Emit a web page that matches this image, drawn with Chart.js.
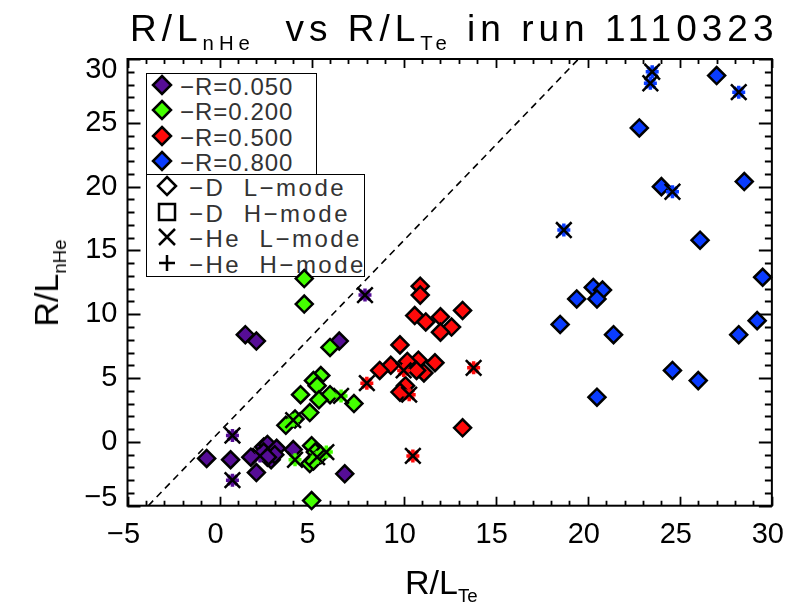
<!DOCTYPE html>
<html><head><meta charset="utf-8">
<script src="https://cdn.jsdelivr.net/npm/chart.js@4/dist/chart.umd.min.js"></script>
<style>
body{margin:0;background:#fff;}
#wrap{position:relative;width:800px;height:613px;overflow:hidden;}
canvas{position:absolute;left:0;top:0;}
.t{position:absolute;font-family:'Liberation Sans',sans-serif;color:#000;white-space:nowrap;line-height:1;}
.sub{font-size:0.55em;position:relative;top:0.45em;}
.box{position:absolute;border:1.5px solid #000;background:transparent;box-sizing:border-box;}
.row{position:absolute;left:0;height:25px;font-family:'Liberation Sans',sans-serif;font-size:24px;color:#333;white-space:nowrap;line-height:25px;}
.row span{position:absolute;top:0;}
</style></head>
<body><div id="wrap">
<div class="box" id="lg1" style="left:146px;top:73px;width:171px;height:102px;"></div>
<div class="box" id="lg2" style="left:146px;top:174px;width:219px;height:103px;"></div>
<canvas id="c" width="800" height="613"></canvas>
<div class="t" id="title" style="left:130px;top:10px;font-size:37px;letter-spacing:5px;">R/L<span class="sub">nHe</span>&nbsp; vs R/L<span class="sub">Te</span>&nbsp;in run 1110323</div>
<div class="t" id="xt" style="left:405px;top:565px;font-size:34px;">R/L<span class="sub">Te</span></div>
<div class="t" id="yt" style="left:46px;top:283px;font-size:34px;transform:translate(-50%,-50%) rotate(-90deg);">R/L<span class="sub">nHe</span></div>
</div>
<script>
// ---- data: [R/L_Te, R/L_nHe] ----
const xRange = [-5, 30];
const yRange = [-5, 30];
const tickValues = [-5, 0, 5, 10, 15, 20, 25, 30];
const dashLineX = [-3.87, 19.5];
const dashLineY = [-5, 30];

const r050_D_L = [[1.4,8.4],[2.0,7.9],[6.5,7.9],[-0.7,-1.3],[0.6,-1.4],[1.7,-1.2],[2.0,-2.4],[2.4,-0.4],[2.6,-0.2],[2.4,-0.8],[2.8,-1.4],[3.1,-0.5],[3.0,-1.0],[4.0,-0.6],[6.8,-2.5],[2.6,-1.2]];
const r050_He_L = [[0.7,0.5],[0.7,-3.0],[2.2,-1.1],[7.9,11.5]];
const r200_D_L = [[4.6,12.8],[4.6,10.8],[6.0,7.4],[5.5,5.2],[5.1,4.8],[5.3,4.4],[4.4,3.7],[6.0,3.7],[5.4,3.3],[4.9,2.3],[4.1,1.8],[3.6,1.3],[7.3,3.0],[5.0,-0.3],[5.2,-0.8],[5.5,-1.0],[4.9,-1.7],[5.1,-1.5],[5.0,-4.6]];
const r200_He_L = [[6.6,3.6],[4.0,1.7],[5.8,-0.8],[4.1,-1.4],[5.3,-1.2]];
const r500_D_L = [[10.9,12.2],[10.9,11.5],[13.2,10.3],[10.6,9.9],[11.2,9.4],[12.0,9.8],[12.6,9.0],[12.0,8.6],[9.8,7.6],[11.7,6.2],[10.8,6.4],[10.2,6.3],[9.3,6.0],[8.7,5.6],[11.1,5.4],[10.7,5.6],[10.1,4.4],[9.8,3.9],[13.2,1.1]];
const r500_He_L = [[8.0,4.6],[10.0,5.6],[10.3,3.7],[13.8,5.8],[10.5,-1.1]];
const r800_D_L = [[27.0,28.7],[22.8,24.6],[24.0,20.0],[28.5,20.4],[26.1,15.8],[29.5,12.9],[20.3,12.1],[20.8,11.9],[19.4,11.2],[20.5,11.2],[18.5,9.2],[21.4,8.4],[29.2,9.5],[28.2,8.4],[24.6,5.6],[26.0,4.8],[20.5,3.5]];
const r800_He_L = [[23.5,29.0],[23.4,28.1],[28.2,27.4],[24.6,19.6],[18.7,16.6]];

const seriesNames = ['R=0.050','R=0.200','R=0.500','R=0.800'];
const seriesColors = ['#560d96','#44ff00','#ff0a0a','#0a3cff'];
const seriesD = [r050_D_L, r200_D_L, r500_D_L, r800_D_L];
const seriesHe = [r050_He_L, r200_He_L, r500_He_L, r800_He_L];
const symbolNames = ['D L\u2212mode','D H\u2212mode','He L\u2212mode','He H\u2212mode'];

const pts = a => a.map(p => ({x:p[0], y:p[1]}));
const datasets = [];
datasets.push({type:'line', data: dashLineX.map((x,i)=>({x, y:dashLineY[i]})), borderColor:'#000', borderWidth:1.6, borderDash:[7,5], pointRadius:0, fill:false, order:100});
seriesD.forEach((d,i)=>{
  datasets.push({data:pts(d), pointStyle:'rectRot', pointRadius:8.5, backgroundColor:seriesColors[i], borderColor:'#000', borderWidth:2.5, clip:false, order:50-i*3});
  datasets.push({data:pts(seriesHe[i]), pointStyle:'star', pointRadius:6.5, backgroundColor:seriesColors[i], borderColor:seriesColors[i], borderWidth:3.5, clip:false, order:49-i*3});
  datasets.push({data:pts(seriesHe[i]), pointStyle:'crossRot', pointRadius:11, borderColor:'#000', borderWidth:2.5, clip:false, order:48-i*3});
});

const fmt = v => (v < 0 ? '\u2212' + Math.abs(v) : String(v));

const frameTicks = {
  id:'frameTicks',
  beforeDatasetsDraw(chart){
    const {ctx, chartArea:a} = chart;
    const x = chart.scales.x, y = chart.scales.y;
    ctx.save();
    ctx.strokeStyle = '#000';
    ctx.lineWidth = 1.8;
    ctx.beginPath();
    for (let v = xRange[0]; v <= xRange[1]; v++) {
      const px = Math.round(x.getPixelForValue(v)) + 0.5;
      const len = (v % 5 === 0) ? 9 : 5;
      ctx.moveTo(px, a.bottom); ctx.lineTo(px, a.bottom - len);
      ctx.moveTo(px, a.top); ctx.lineTo(px, a.top + len);
    }
    for (let v = yRange[0]; v <= yRange[1]; v++) {
      const py = Math.round(y.getPixelForValue(v)) + 0.5;
      const len = (v % 5 === 0) ? 13 : 7;
      ctx.moveTo(a.left, py); ctx.lineTo(a.left + len, py);
      ctx.moveTo(a.right, py); ctx.lineTo(a.right - len, py);
    }
    ctx.stroke();
    ctx.lineWidth = 2;
    ctx.strokeRect(a.left, a.top, a.right - a.left, a.bottom - a.top);
    ctx.restore();
  },
  afterDraw(chart){
    const {ctx, chartArea:a} = chart;
    const y = chart.scales.y;
    ctx.save();
    ctx.font = '29px "Liberation Sans"';
    ctx.fillStyle = '#000';
    ctx.textAlign = 'right';
    ctx.textBaseline = 'middle';
    tickValues.forEach(v => {
      let py = y.getPixelForValue(v);
      if (v === yRange[1]) py += 11;
      if (v === yRange[0]) py -= 8;
      ctx.fillText(fmt(v), a.left - 10, py);
    });
    ctx.restore();
  }
};

new Chart(document.getElementById('c'), {
  type:'scatter',
  data:{datasets},
  options:{
    responsive:false, animation:false, devicePixelRatio:1,
    plugins:{legend:{display:false}, tooltip:{enabled:false}},
    layout:{padding:{top:59, right:27, left:0, bottom:0}},
    scales:{
      x:{type:'linear', min:xRange[0], max:xRange[1], afterFit(s){s.height=107.3;},
         afterBuildTicks(s){s.ticks = tickValues.map(v=>({value:v}));},
         grid:{display:false, drawTicks:false}, border:{display:false},
         ticks:{callback:fmt, color:'#000', padding:12, labelOffset:-4, maxRotation:0, autoSkip:false, font:{family:'Liberation Sans', size:29}}},
      y:{type:'linear', min:yRange[0], max:yRange[1], afterFit(s){s.width=127.5;},
         afterBuildTicks(s){s.ticks = tickValues.map(v=>({value:v}));},
         grid:{display:false, drawTicks:false}, border:{display:false},
         ticks:{display:false, callback:fmt}}
    }
  },
  plugins:[frameTicks]
});

// ---- legend boxes ----
function svgDiamond(fill, stroke){return `<svg width="22" height="22" viewBox="0 0 22 22"><polygon points="11,2 20,11 11,20 2,11" fill="${fill}" stroke="${stroke}" stroke-width="2.5"/></svg>`;}
function svgSquare(){return `<svg width="22" height="22" viewBox="0 0 22 22"><rect x="3" y="3" width="16" height="16" fill="none" stroke="#000" stroke-width="2.5"/></svg>`;}
function svgX(){return `<svg width="22" height="22" viewBox="0 0 22 22"><path d="M3,3L19,19M19,3L3,19" stroke="#000" stroke-width="2.5"/></svg>`;}
function svgPlus(){return `<svg width="22" height="22" viewBox="0 0 22 22"><path d="M11,3L11,19M3,11L19,11" stroke="#000" stroke-width="2.5"/></svg>`;}
const lg1 = document.getElementById('lg1');
seriesNames.forEach((n,i)=>{
  const r = document.createElement('div'); r.className='row'; r.style.top=(0+i*25.3)+'px';
  r.innerHTML = `<span style="left:4px;top:0">${svgDiamond(seriesColors[i],'#000')}</span><span style="left:33px;letter-spacing:1px">\u2212${n}</span>`;
  lg1.appendChild(r);
});
const lg2 = document.getElementById('lg2');
const syms = [svgDiamond('none','#000'), svgSquare(), svgX(), svgPlus()];
symbolNames.forEach((n,i)=>{
  const r = document.createElement('div'); r.className='row'; r.style.top=(0+i*25.5)+'px';
  r.innerHTML = `<span style="left:9px;top:0">${syms[i]}</span><span style="left:42px;letter-spacing:2.5px">\u2212${n.replace(' ','&nbsp; ')}</span>`;
  lg2.appendChild(r);
});
</script>
</body></html>
